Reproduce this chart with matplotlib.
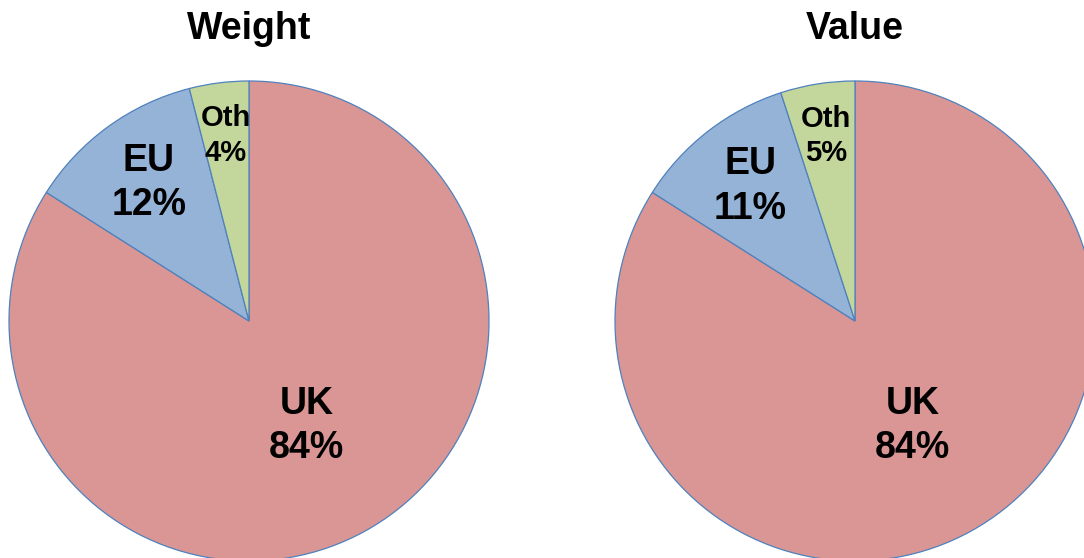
import matplotlib
matplotlib.use("Agg")
import matplotlib.pyplot as plt
import numpy as np

# Data
regions = ["UK", "EU", "Oth"]
weight_share = [84, 12, 4]
value_share = [84, 11, 5]
titles = ["Weight", "Value"]

colors = ["#D99694", "#95B3D7", "#C3D69B"]
edge_color = "#4F81BD"
label_dist = [0.50, 0.71, 0.78]
label_size = [27, 27, 21]

plt.rcParams['font.family'] = ['Liberation Sans', 'DejaVu Sans']

W, H = 1084, 558
fig = plt.figure(figsize=(W / 100, H / 100), dpi=100)
ax = fig.add_axes([0, 0, 1, 1])

centers = [(249, H - 321), (855, H - 321)]
radius = 240


def draw_pie(shares, center, title):
	wedges, _ = ax.pie(shares, colors=colors, startangle=90, counterclock=False,
		center=center, radius=radius, frame=True,
		wedgeprops=dict(edgecolor=edge_color, linewidth=0.9))
	for w, name, val, d, fs in zip(wedges, regions, shares, label_dist, label_size):
		mid = np.deg2rad((w.theta1 + w.theta2) / 2)
		x = center[0] + d * radius * np.cos(mid)
		y = center[1] + d * radius * np.sin(mid)
		ax.text(x, y, "%s\n%d%%" % (name, val), ha="center", va="center",
			fontsize=fs, fontweight="bold", linespacing=1.3)
	ax.text(center[0], H - 29, title, ha="center", va="center",
		fontsize=27, fontweight="bold")


draw_pie(weight_share, centers[0], titles[0])
draw_pie(value_share, centers[1], titles[1])

ax.set_xlim(0, W)
ax.set_ylim(0, H)
ax.set_aspect("equal")
ax.axis("off")

fig.savefig("out.png", dpi=100)
